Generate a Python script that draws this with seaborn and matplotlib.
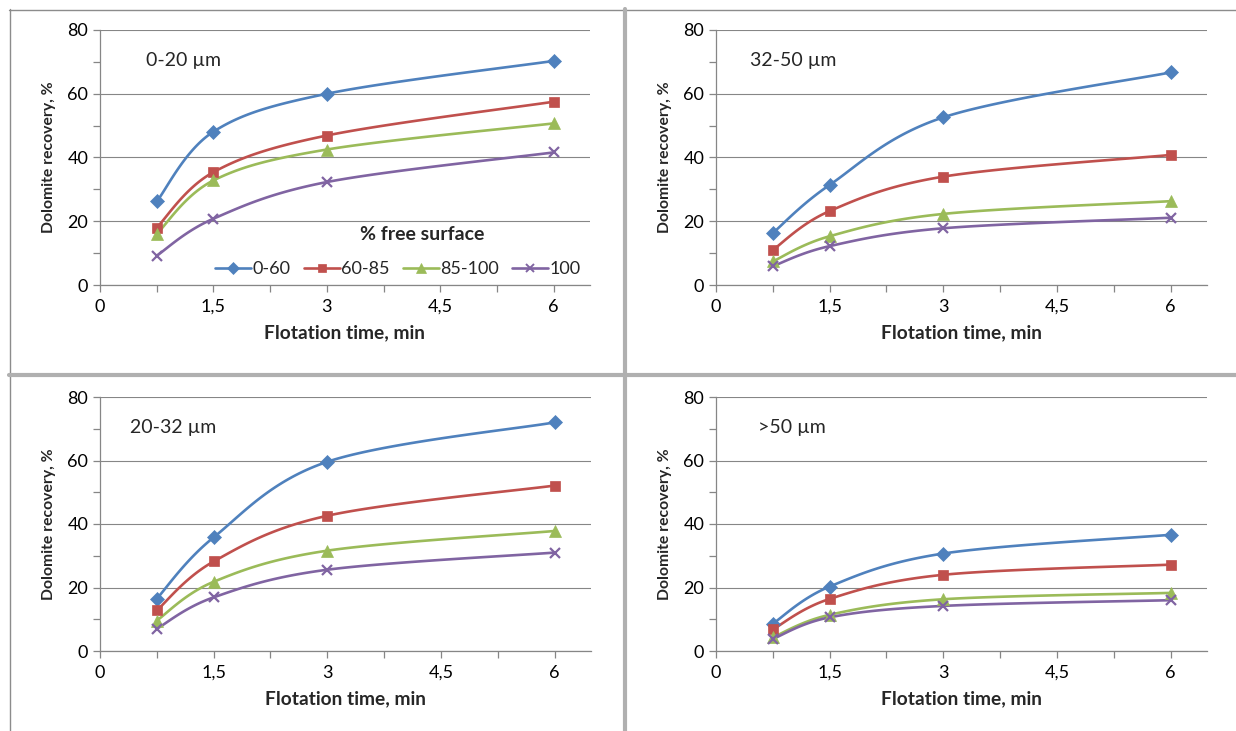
import numpy as np
import matplotlib
matplotlib.use('Agg')
import matplotlib.pyplot as plt
import seaborn as sns
from matplotlib.lines import Line2D

# dados
tempo = [0.75, 1.5, 3, 6]
series = ['0-60', '60-85', '85-100', '100']

frac_0_20 = {
    '0-60': [26.2, 48.1, 60.0, 70.3],
    '60-85': [18.0, 35.4, 46.9, 57.5],
    '85-100': [16.0, 32.8, 42.5, 50.7],
    '100': [9.2, 20.8, 32.3, 41.6],
}
frac_32_50 = {
    '0-60': [16.3, 31.4, 52.6, 66.7],
    '60-85': [11.0, 23.2, 34.0, 40.8],
    '85-100': [7.4, 15.3, 22.3, 26.3],
    '100': [5.9, 12.2, 17.8, 21.1],
}
frac_20_32 = {
    '0-60': [16.5, 35.8, 59.6, 72.0],
    '60-85': [12.8, 28.2, 42.6, 52.1],
    '85-100': [9.6, 21.8, 31.6, 37.8],
    '100': [7.0, 16.9, 25.6, 31.0],
}
frac_50 = {
    '0-60': [8.6, 20.3, 30.7, 36.6],
    '60-85': [6.8, 16.4, 24.0, 27.2],
    '85-100': [4.3, 11.4, 16.3, 18.3],
    '100': [3.8, 10.6, 14.2, 16.0],
}

cores = {'0-60': '#4F81BD', '60-85': '#C0504D', '85-100': '#9BBB59', '100': '#8064A2'}
marcadores = {'0-60': ('D', 7), '60-85': ('s', 7.5), '85-100': ('^', 8), '100': ('x', 7.5)}

sns.set_style('white')
plt.rcParams['font.family'] = ['Lato', 'DejaVu Sans']

W, H = 1236, 731
cinza = '#868686'


def suavizar(x, y, n=40):
    # curva suavizada do tipo Excel (Bezier com tangentes de Catmull-Rom)
    x = np.asarray(x, float)
    y = np.asarray(y, float)
    px = np.concatenate([[x[0]], x, [x[-1]]])
    py = np.concatenate([[y[0]], y, [y[-1]]])
    xs, ys = [], []
    t = np.linspace(0, 1, n)
    for i in range(1, len(px) - 2):
        p0 = np.array([px[i], py[i]])
        p3 = np.array([px[i + 1], py[i + 1]])
        c1 = p0 + (np.array([px[i + 1], py[i + 1]]) - np.array([px[i - 1], py[i - 1]])) / 6
        c2 = p3 - (np.array([px[i + 2], py[i + 2]]) - np.array([px[i], py[i]])) / 6
        b = ((1 - t) ** 3)[:, None] * p0 + (3 * (1 - t) ** 2 * t)[:, None] * c1 \
            + (3 * (1 - t) * t ** 2)[:, None] * c2 + (t ** 3)[:, None] * p3
        xs.extend(b[:, 0])
        ys.extend(b[:, 1])
    return np.array(xs), np.array(ys)


def painel(fig, rect_px, dados, rotulo, rotulo_x, legenda=False):
    x0, y0, x1, y1 = rect_px
    ax = fig.add_axes([x0 / W, 1 - y1 / H, (x1 - x0) / W, (y1 - y0) / H])
    for s in series:
        xs, ys = suavizar(tempo, dados[s])
        sns.lineplot(x=xs, y=ys, ax=ax, color=cores[s], lw=1.9, sort=False, estimator=None)
        m, ms = marcadores[s]
        ax.plot(tempo, dados[s], linestyle='none', marker=m, ms=ms, color=cores[s],
                mew=1.6 if m == 'x' else 0.5, zorder=4)
    ax.set_xlim(0, 6.48)
    ax.set_ylim(0, 80)
    ax.set_xticks([0, 1.5, 3, 4.5, 6])
    ax.set_xticklabels(['0', '1,5', '3', '4,5', '6'])
    ax.set_xticks([0.75, 2.25, 3.75, 5.25], minor=True)
    ax.set_yticks([0, 20, 40, 60, 80])
    ax.set_yticks([10, 30, 50, 70], minor=True)
    ax.tick_params(which='both', direction='out', length=5, width=0.9, color=cinza,
                   labelsize=13, labelcolor='black', bottom=True, left=True)
    ax.tick_params(axis='x', pad=5)
    ax.grid(axis='y', which='major', color=cinza, lw=0.8)
    ax.set_axisbelow(True)
    for lado in ['top', 'right']:
        ax.spines[lado].set_visible(False)
    for lado in ['left', 'bottom']:
        ax.spines[lado].set_color(cinza)
        ax.spines[lado].set_linewidth(0.9)
    ax.set_xlabel('Flotation time, min', fontsize=13.8, fontweight='bold', labelpad=7)
    ax.set_ylabel('Dolomite recovery, %', fontsize=11.3, fontweight='bold', labelpad=8)
    ax.text(rotulo_x, 70.5, rotulo, fontsize=14, va='center', ha='left')
    if legenda:
        alcas = [Line2D([], [], color=cores[s], lw=1.9, marker=marcadores[s][0],
                        ms=marcadores[s][1] * 0.85, mew=1.4 if s == '100' else 0.5)
                 for s in series]
        ax.legend(alcas, series, ncol=4, loc='center', frameon=False,
                  bbox_to_anchor=((398 - x0) / (x1 - x0), (y1 - 269) / (y1 - y0)),
                  fontsize=13, handlelength=2.0, handletextpad=0.1, columnspacing=0.7,
                  borderaxespad=0)
        ax.text((422 - x0) / (x1 - x0), (y1 - 235) / (y1 - y0), '% free surface',
                transform=ax.transAxes, fontsize=14, fontweight='bold', ha='center', va='center')
    return ax


fig = plt.figure(figsize=(W / 100, H / 100), dpi=100)

painel(fig, (100, 30, 590, 285), frac_0_20, '0-20 µm', 0.61, legenda=True)
painel(fig, (716, 30, 1207, 285), frac_32_50, '32-50 µm', 0.45)
painel(fig, (100, 397, 591, 651), frac_20_32, '20-32 µm', 0.40)
painel(fig, (716, 397, 1207, 651), frac_50, '>50 µm', 0.55)

# molduras das áreas de gráfico
def linha(xa, ya, xb, yb, cor, lw):
    fig.add_artist(Line2D([xa / W, xb / W], [1 - ya / H, 1 - yb / H], color=cor, lw=lw,
                          transform=fig.transFigure))

linha(9, 9.5, W, 9.5, '#8c8c8c', 1.0)
linha(9.5, 9, 9.5, H, '#8c8c8c', 1.0)
linha(625, 9, 625, H, '#b0b0b0', 3.0)
linha(9, 375, W, 375, '#b0b0b0', 3.0)

fig.savefig('out.png', dpi=100)
